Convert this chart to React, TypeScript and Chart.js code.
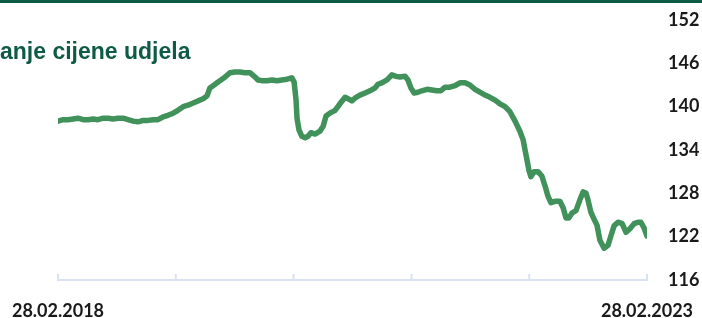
import React, { useEffect, useRef } from "react";
import { Chart, registerables } from "chart.js";

Chart.register(...registerables);

const titleText = "Kretanje cijene udjela";
const startLabel = "28.02.2018";
const endLabel = "28.02.2023";
const yTickMin = 116;
const yTickMax = 152;
const yTickStep = 6;
const yearTickDays = [0, 365, 730, 1096, 1461, 1826];

const dayOffsets = [
  0, 16, 31, 47, 62, 78, 93, 109, 124, 140, 155, 171, 186, 202, 217, 233, 248, 264, 279, 295,
  310, 326, 341, 357, 372, 388, 403, 419, 434, 450, 462, 471, 487, 502, 518, 533, 549, 564, 580, 595,
  611, 620, 632, 648, 663, 679, 694, 710, 725, 732, 738, 741, 747, 756, 766, 775, 784, 797, 812, 822,
  831, 843, 859, 874, 890, 899, 911, 924, 936, 952, 967, 983, 992, 1004, 1020, 1035, 1048, 1060, 1076, 1085,
  1094, 1104, 1116, 1128, 1144, 1159, 1175, 1187, 1200, 1215, 1231, 1246, 1262, 1277, 1293, 1308, 1324, 1339, 1355, 1370,
  1386, 1401, 1417, 1432, 1442, 1448, 1454, 1460, 1466, 1476, 1488, 1500, 1510, 1519, 1528, 1541, 1556, 1566, 1575, 1584,
  1594, 1606, 1618, 1628, 1637, 1643, 1652, 1662, 1671, 1680, 1693, 1705, 1714, 1724, 1736, 1749, 1761, 1773, 1786, 1798,
  1807, 1817, 1826,
];

const unitPrices = [
  138.0, 138.2, 138.2, 138.3, 138.4, 138.2, 138.2, 138.3, 138.2, 138.4, 138.4, 138.3, 138.4, 138.4, 138.2, 138.0, 137.9, 138.1, 138.1, 138.2,
  138.2, 138.6, 138.8, 139.1, 139.5, 140.0, 140.2, 140.5, 140.8, 141.1, 141.5, 142.6, 143.1, 143.6, 144.1, 144.7, 144.8, 144.8, 144.7, 144.7,
  144.1, 143.7, 143.6, 143.6, 143.7, 143.6, 143.7, 143.8, 144.0, 143.4, 140.9, 138.4, 136.8, 135.9, 135.7, 135.9, 136.4, 136.2, 136.6, 137.3,
  138.7, 139.1, 139.5, 140.4, 141.3, 141.1, 140.8, 141.3, 141.6, 141.9, 142.2, 142.6, 143.1, 143.3, 143.7, 144.4, 144.2, 144.1, 144.2, 143.7,
  142.6, 141.9, 142.0, 142.2, 142.4, 142.3, 142.2, 142.2, 142.7, 142.7, 142.9, 143.3, 143.3, 143.0, 142.4, 142.0, 141.6, 141.3, 140.9, 140.4,
  140.0, 139.3, 138.0, 136.6, 135.4, 134.0, 132.6, 131.2, 130.3, 131.0, 131.0, 130.4, 129.0, 127.6, 126.7, 126.9, 126.9, 126.0, 124.6, 124.6,
  125.3, 125.6, 127.1, 128.2, 128.0, 127.1, 125.4, 124.4, 123.6, 121.5, 120.4, 120.8, 122.1, 123.5, 124.0, 123.8, 122.6, 123.1, 123.8, 124.0,
  124.0, 123.2, 122.1,
];

const axisColor = "#d9e2f1";
const lineColor = "#40915a";
const labelColor = "#1a1a1a";
const brandGreen = "#0e5b45";

const tickMarksPlugin = {
  id: "upwardTickMarks",
  beforeDatasetsDraw(chart: any) {
    const { ctx, chartArea } = chart;
    const x = chart.scales.x;
    ctx.save();
    ctx.strokeStyle = axisColor;
    ctx.lineWidth = 2;
    x.ticks.forEach((t: any) => {
      const px = x.getPixelForValue(t.value);
      ctx.beginPath();
      ctx.moveTo(px, chartArea.bottom);
      ctx.lineTo(px, chartArea.bottom - 6);
      ctx.stroke();
    });
    ctx.restore();
  },
};

export default function App() {
  const canvasRef = useRef<HTMLCanvasElement | null>(null);

  useEffect(() => {
    if (!canvasRef.current) return;
    const data = dayOffsets.map((d, i) => ({ x: d, y: unitPrices[i] }));
    const chart = new Chart(canvasRef.current, {
      type: "line",
      data: {
        datasets: [
          {
            data,
            borderColor: lineColor,
            borderWidth: 5.5,
            pointRadius: 0,
            tension: 0,
            borderJoinStyle: "round",
            borderCapStyle: "round",
          },
        ],
      },
      plugins: [tickMarksPlugin],
      options: {
        responsive: false,
        animation: false,
        layout: { padding: { left: 58, top: 20, right: 0, bottom: 0 } },
        plugins: { legend: { display: false }, tooltip: { enabled: false }, title: { display: false } },
        scales: {
          x: {
            type: "linear",
            min: 0,
            max: 1826,
            afterBuildTicks: (scale: any) => {
              scale.ticks = yearTickDays.map((v) => ({ value: v }));
            },
            afterFit: (scale: any) => {
              scale.height = 38;
              scale.paddingLeft = 0;
              scale.paddingRight = 0;
            },
            grid: { display: false, drawTicks: false },
            border: { display: true, color: axisColor, width: 2 },
            ticks: {
              autoSkip: false,
              maxRotation: 0,
              padding: 20,
              color: labelColor,
              font: { family: "Lato", size: 18, weight: "bold" },
              callback: (v: any) => (v === 0 ? startLabel : v === 1826 ? endLabel : ""),
            },
          },
          y: {
            position: "right",
            min: yTickMin,
            max: yTickMax,
            afterFit: (scale: any) => {
              scale.width = 55;
              scale.paddingTop = 0;
              scale.paddingBottom = 0;
            },
            grid: { display: false, drawTicks: false },
            border: { display: false },
            ticks: {
              stepSize: yTickStep,
              padding: 21,
              color: labelColor,
              font: { family: "Lato", size: 18, weight: "bold" },
            },
          },
        },
      },
    });
    return () => chart.destroy();
  }, []);

  return (
    <div style={{ position: "fixed", left: 0, top: 0, width: 702, height: 318, overflow: "hidden", background: "#fff" }}>
      <div style={{ position: "absolute", left: 0, top: 0, width: 702, height: 3, background: brandGreen }} />
      <canvas ref={canvasRef} width={702} height={318} style={{ position: "absolute", left: 0, top: 0 }} />
      <div
        style={{
          position: "absolute",
          left: -46,
          top: 40,
          fontFamily: "'Liberation Sans', Arial, sans-serif",
          fontWeight: "bold",
          fontSize: 23,
          lineHeight: "23px",
          color: brandGreen,
          whiteSpace: "nowrap",
        }}
      >
        {titleText}
      </div>
    </div>
  );
}
